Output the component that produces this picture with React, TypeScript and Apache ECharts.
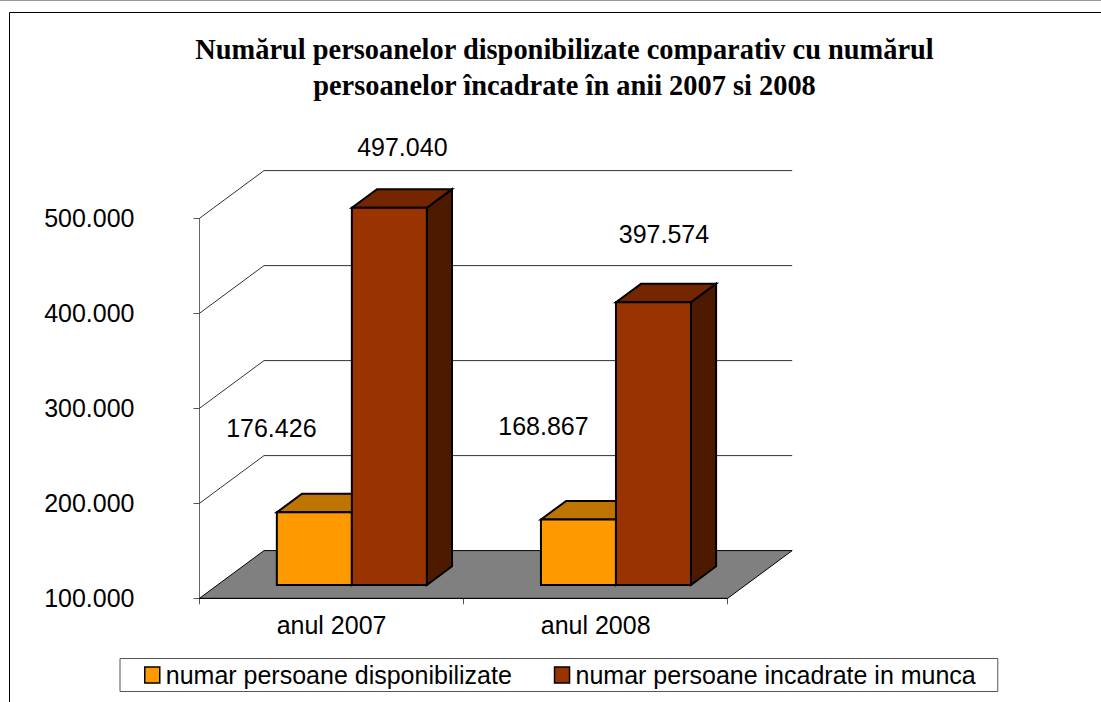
import React, { useEffect, useRef } from "react";
import * as echarts from "echarts";

const categories = ["anul 2007", "anul 2008"];
const seriesNames = ["numar persoane disponibilizate", "numar persoane incadrate in munca"];
const disponibilizate = [176426, 168867];
const incadrate = [497040, 397574];
const wallTicks = [200000, 300000, 400000, 500000];
const floorValue = [100000];
const titleText = "Numărul persoanelor disponibilizate comparativ cu numărul\npersoanelor încadrate în anii 2007 si 2008";

const fmt = (v: number) => String(v).replace(/\B(?=(\d{3})+$)/g, ".");

const DX = 64.5, DY = -47.7;
const F = 0.28, B = 0.67;
const W = 75;
const DIV = 20.3;
const FACES = [
  { front: "#FF9900", top: "#BF7300", side: "#804D00" },
  { front: "#993300", top: "#732600", side: "#4D1A00" },
];
const labelShift = [
  [[-43, -84], [-35, -94]],
  [[13, -61], [10.5, -68]],
];
const font = "'Liberation Sans', Arial, sans-serif";

function wallItem(params: any, api: any) {
  const p = api.coord([0, api.value(0)]);
  const y = p[1];
  const x0 = params.coordSys.x, w = params.coordSys.width;
  return {
    type: "polyline",
    shape: { points: [[x0, y], [x0 + DX, y + DY], [x0 + w + DX, y + DY]] },
    style: { fill: null, stroke: "#333", lineWidth: 1 },
    silent: true,
  };
}

function floorItem(params: any, api: any) {
  const y = api.coord([0, api.value(0)])[1];
  const x0 = params.coordSys.x, w = params.coordSys.width;
  return {
    type: "polygon",
    shape: { points: [[x0, y], [x0 + w, y], [x0 + w + DX, y + DY], [x0 + DX, y + DY]] },
    style: { fill: "#808080", stroke: "#000", lineWidth: 1 },
    silent: true,
  };
}

function barItem(s: number) {
  return (params: any, api: any) => {
    const cat = api.value(0);
    const c = api.coord([cat, api.value(1)]);
    const base = api.coord([cat, floorValue[0]])[1] + DY * F;
    const right = c[0] + DIV + (s === 0 ? 0 : W);
    const left = right - W;
    const top = c[1] + DY * F;
    const ddx = DX * (B - F), ddy = DY * (B - F);
    const f = FACES[s];
    const stroke = { stroke: "#000", lineWidth: 2, lineJoin: "miter" };
    const shift = labelShift[s][params.dataIndex];
    return {
      type: "group",
      children: [
        { type: "polygon", shape: { points: [[right, top], [right + ddx, top + ddy], [right + ddx, base + ddy], [right, base]] }, style: { fill: f.side, ...stroke } },
        { type: "polygon", shape: { points: [[left, top], [left + ddx, top + ddy], [right + ddx, top + ddy], [right, top]] }, style: { fill: f.top, ...stroke } },
        { type: "rect", shape: { x: left, y: top, width: W, height: base - top }, style: { fill: f.front, ...stroke } },
        {
          type: "text",
          x: (left + right) / 2 + shift[0],
          y: top + shift[1],
          style: { text: fmt(api.value(1)), font: `25px ${font}`, fill: "#000", textAlign: "center", textVerticalAlign: "middle" },
        },
      ],
    };
  };
}

export default function App() {
  const ref = useRef<HTMLDivElement>(null);
  useEffect(() => {
    const chart = echarts.init(ref.current!, null, { renderer: "svg" });
    chart.setOption({
      animation: false,
      backgroundColor: "#fff",
      title: {
        text: titleText,
        left: 559.5,
        top: 26,
        textAlign: "center",
        textStyle: { fontFamily: "'Liberation Serif', serif", fontWeight: "bold", fontSize: 28.4, lineHeight: 36, color: "#000" },
      },
      grid: { left: 199.5, top: 218.3, width: 528.2, height: 380 },
      legend: {
        left: 120,
        top: 658.5,
        orient: "horizontal",
        data: seriesNames,
        icon: "rect",
        itemWidth: 15,
        itemHeight: 16,
        itemGap: 42,
        padding: [4, 22, 4, 24],
        borderColor: "#555",
        borderWidth: 1,
        backgroundColor: "#fff",
        selectedMode: false,
        itemStyle: { borderColor: "#000", borderWidth: 1.5 },
        textStyle: { fontFamily: font, fontSize: 25, color: "#000", padding: [0, 0, 0, 1] },
      },
      xAxis: {
        type: "category",
        data: categories,
        boundaryGap: true,
        axisLine: { lineStyle: { color: "#000", width: 1 } },
        axisTick: { show: true, alignWithLabel: false, length: 6, lineStyle: { color: "#555" } },
        axisLabel: { fontFamily: font, fontSize: 25, color: "#000", margin: 14 },
      },
      yAxis: {
        type: "value",
        min: 100000,
        max: 500000,
        interval: 100000,
        splitLine: { show: false },
        axisLine: { show: true, lineStyle: { color: "#666", width: 1 } },
        axisTick: { show: true, length: 6, lineStyle: { color: "#555" } },
        axisLabel: { fontFamily: font, fontSize: 25, color: "#000", margin: 65, formatter: (v: number) => fmt(v) },
      },
      series: [
        { type: "custom", name: "walls", clip: false, silent: true, renderItem: wallItem, data: wallTicks.map((v) => [v]), z: 1 },
        { type: "custom", name: "floor", clip: false, silent: true, renderItem: floorItem, data: floorValue.map((v) => [v]), z: 1 },
        { type: "custom", name: seriesNames[0], clip: false, renderItem: barItem(0), itemStyle: { color: FACES[0].front }, data: disponibilizate.map((v, i) => [i, v]), encode: { x: 0, y: 1 }, z: 2 },
        { type: "custom", name: seriesNames[1], clip: false, renderItem: barItem(1), itemStyle: { color: FACES[1].front }, data: incadrate.map((v, i) => [i, v]), encode: { x: 0, y: 1 }, z: 3 },
      ],
      graphic: [
        { type: "line", shape: { x1: 0, y1: 0.5, x2: 1101, y2: 0.5 }, style: { stroke: "#999", lineWidth: 1 }, silent: true },
        { type: "polyline", shape: { points: [[1101, 12.5], [9.5, 12.5], [9.5, 702]] }, style: { fill: null, stroke: "#000", lineWidth: 1 }, silent: true },
      ],
    });
    return () => chart.dispose();
  }, []);
  return <div ref={ref} style={{ position: "fixed", left: 0, top: 0, width: 1101, height: 702 }} />;
}
